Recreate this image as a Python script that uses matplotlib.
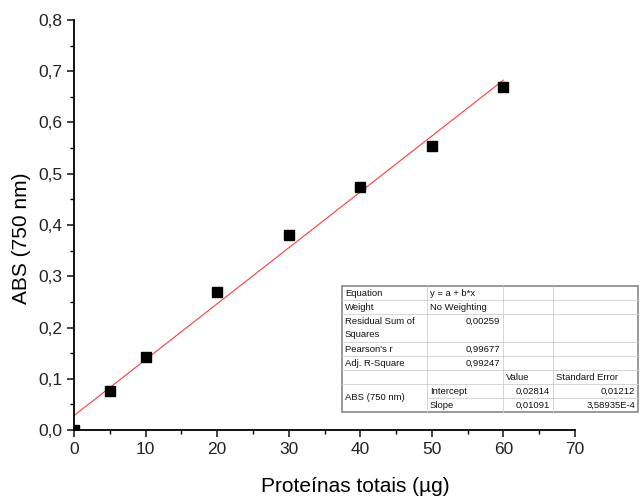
import matplotlib
matplotlib.use("Agg")
import matplotlib.pyplot as plt
from matplotlib.ticker import FuncFormatter, MultipleLocator
from matplotlib.lines import Line2D

plt.rcParams['font.family'] = ['Liberation Sans', 'DejaVu Sans']

# Data
protein_ug = [0, 5, 10, 20, 30, 40, 50, 60]
absorbance = [0.0, 0.077, 0.143, 0.270, 0.380, 0.475, 0.555, 0.670]
intercept = 0.02814
slope = 0.01091
fit_x = [0, 60]

# Table contents
row_labels = ["Equation", "Weight", "Residual Sum of\nSquares", "Pearson's r", "Adj. R-Square", ""]
row_values = ["y = a + b*x", "No Weighting", "0,00259", "0,99677", "0,99247", ""]
param_names = ["Intercept", "Slope"]
param_values = ["0,02814", "0,01091"]
param_errors = ["0,01212", "3,58935E-4"]
col_headers = ["Value", "Standard Error"]
group_label = "ABS (750 nm)"

fig = plt.figure(figsize=(6.44, 5.00), dpi=100)
ax = fig.add_axes([74/644, 1-430/500, (575-74)/644, (430-20)/500])

ax.plot(fit_x, [intercept + slope*x for x in fit_x], color='#ff3b3b', lw=0.8, zorder=2)
ax.plot(protein_ug, absorbance, 's', color='black', markersize=7, zorder=3, clip_on=True)

ax.set_xlim(0, 70)
ax.set_ylim(0, 0.8)
ax.xaxis.set_major_locator(MultipleLocator(10))
ax.xaxis.set_minor_locator(MultipleLocator(5))
ax.yaxis.set_major_locator(MultipleLocator(0.1))
ax.yaxis.set_minor_locator(MultipleLocator(0.05))
ax.yaxis.set_major_formatter(FuncFormatter(lambda v, p: f"{v:.1f}".replace('.', ',')))
ax.xaxis.set_major_formatter(FuncFormatter(lambda v, p: f"{v:.0f}"))
for s in ['top', 'right']:
    ax.spines[s].set_visible(False)
for s in ['left', 'bottom']:
    ax.spines[s].set_linewidth(1.3)
ax.tick_params(which='major', direction='out', length=5, width=1.2, labelsize=12.5, colors='#222222')
ax.tick_params(which='minor', direction='out', length=3, width=1.0)
ax.set_xlabel("Proteínas totais (µg)", fontsize=15)
ax.set_ylabel("ABS (750 nm)", fontsize=15)
ax.xaxis.set_label_coords((355-74)/501, -(487-430)/410, transform=ax.transAxes)
ax.yaxis.set_label_coords((22-74)/501, (430-238)/410, transform=ax.transAxes)
ax.xaxis.label.set_va('center')
ax.yaxis.label.set_va('center')

# Table drawn in figure pixel coordinates
W, H = 644, 500
tx = [342, 427, 503, 553, 638]
top, bottom = 286, 412
units = [1, 1, 2, 1, 1, 1, 1, 1]
uh = (bottom - top) / sum(units)
ys = [top]
for u in units:
    ys.append(ys[-1] + u*uh)

def fx(x): return x / W
def fy(y): return 1 - y / H

fig.patches.append(plt.Rectangle((fx(tx[0]), fy(bottom)), fx(tx[4]-tx[0]), (bottom-top)/H,
                                 transform=fig.transFigure, facecolor='white', edgecolor='#888888', lw=1.2, zorder=5))
lc = '#cfcfcf'
for x in tx[1:4]:
    fig.add_artist(Line2D([fx(x), fx(x)], [fy(top), fy(bottom)], color=lc, lw=0.6, zorder=6))
for i, y in enumerate(ys[1:-1], start=1):
    x0 = tx[1] if i == 7 else tx[0]
    fig.add_artist(Line2D([fx(x0), fx(tx[4])], [fy(y), fy(y)], color=lc, lw=0.6, zorder=6))

fs = 6.8
pad = 3
def put(text, col, r0, r1=None, align='left', top_line=False):
    if r1 is None:
        r1 = r0 + 1
    x = tx[col] + pad if align == 'left' else tx[col+1] - pad
    y = ys[r0] + uh/2 if top_line else (ys[r0] + ys[r1]) / 2
    fig.text(fx(x), fy(y), text, ha=align, va='center', fontsize=fs, zorder=7, color='#111111', linespacing=1.6)

for i, lab in enumerate(row_labels):
    if i == 2:
        put(lab, 0, 2, 3)
    else:
        put(lab, 0, i)
for i, v in enumerate(row_values):
    if i < 2:
        put(v, 1, i)
    else:
        put(v, 1, i, align='right', top_line=True)
put(col_headers[0], 2, 5)
put(col_headers[1], 3, 5)
put(group_label, 0, 6, 8)
for j in range(2):
    put(param_names[j], 1, 6+j)
    put(param_values[j], 2, 6+j, align='right')
    put(param_errors[j], 3, 6+j, align='right')

fig.savefig("out.png", dpi=100)
